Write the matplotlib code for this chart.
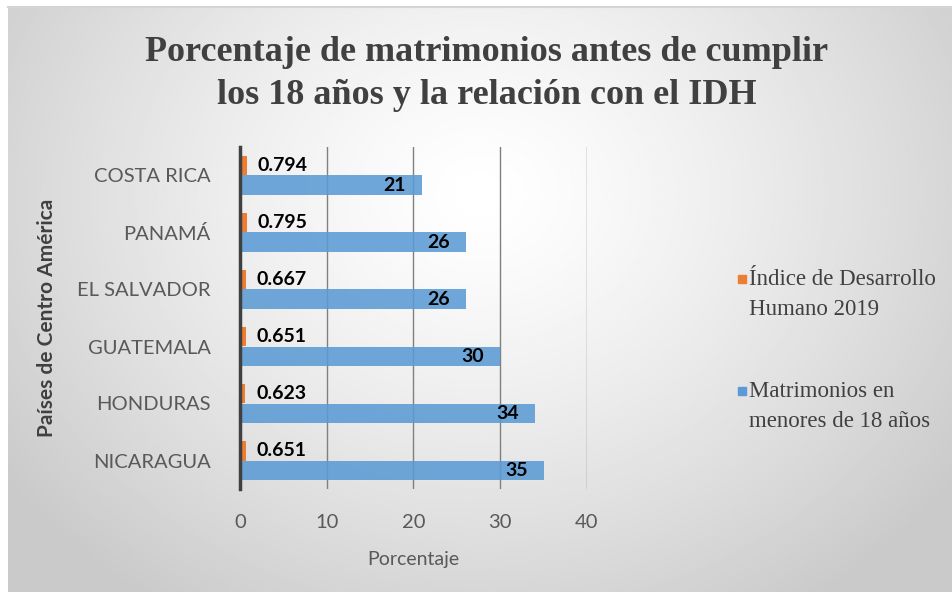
import numpy as np
import matplotlib
matplotlib.use("Agg")
import matplotlib.pyplot as plt
from matplotlib.patches import Rectangle

# data, top to bottom as shown
countries = ["COSTA RICA", "PANAMÁ", "EL SALVADOR", "GUATEMALA", "HONDURAS", "NICARAGUA"]
idh_2019 = [0.794, 0.795, 0.667, 0.651, 0.623, 0.651]
matrimonios = [21, 26, 26, 30, 34, 35]
xticks = [0, 10, 20, 30, 40]

title = "Porcentaje de matrimonios antes de cumplir\nlos 18 años y la relación con el IDH"
legend_labels = ["Índice de Desarrollo\nHumano 2019", "Matrimonios en\nmenores de 18 años"]

ORANGE = "#ed7d31"
BLUE = "#5b9bd5"
SANS = "Lato"
SERIF = "Liberation Serif"

W, H = 953, 592
fig = plt.figure(figsize=(W / 100, H / 100), dpi=100)

# radial grey background of the chart area
bx0, by1 = 8 / W, 1 - 7 / H
bg = fig.add_axes([bx0, 0, 1 - bx0, by1], zorder=0)
gx, gy = np.meshgrid(np.linspace(0, 1, 400), np.linspace(0, 1, 300))
r = np.sqrt(((gx - 0.5) / 0.62) ** 2 + ((gy - 0.32) / 0.85) ** 2)
shade = 1.0 - 0.21 * np.clip(r, 0, 1) ** 1.3
bg.imshow(shade, cmap="gray", vmin=0, vmax=1, aspect="auto", extent=(0, 1, 1, 0))
bg.set_xlim(0, 1)
bg.set_ylim(1, 0)
bg.axis("off")
fig.add_artist(plt.Line2D([bx0, 1], [by1, by1], transform=fig.transFigure, color="#d4d4d4", lw=1.5))

ax = fig.add_axes([240 / W, 1 - 489 / H, 347 / W, 342 / H], zorder=1)
ax.patch.set_alpha(0)

y = np.arange(len(countries))
h = 0.35
ax.barh(y - h / 2, idh_2019, height=h, color=ORANGE, zorder=3)
ax.barh(y + h / 2, matrimonios, height=h, color=BLUE, alpha=0.88, zorder=3)

for yi, v in zip(y, idh_2019):
    ax.annotate(f"{v:.3f}", (v, yi - h / 2), xytext=(11, 0), textcoords="offset pixels",
                ha="left", va="center", fontsize=14, fontweight="bold", family=SANS, color="black", zorder=5)
for yi, v in zip(y, matrimonios):
    ax.annotate(str(v), (v, yi + h / 2), xytext=(-16, 0), textcoords="offset pixels",
                ha="right", va="center", fontsize=14, fontweight="bold", family=SANS, color="black", zorder=5)

ax.set_xlim(0, 40)
ax.set_ylim(len(countries) - 0.5, -0.5)
ax.set_xticks(xticks)
ax.set_yticks(y)
ax.set_yticklabels(countries)
ax.tick_params(length=0, labelsize=14.5, labelcolor="#595959")
ax.tick_params(axis="x", pad=18)
ax.tick_params(axis="y", pad=21)
for t in ax.get_xticklabels() + ax.get_yticklabels():
    t.set_family(SANS)
ax.xaxis.grid(True, color="#808080", lw=1, zorder=4)
ax.set_axisbelow(False)
for s in ["top", "right", "bottom"]:
    ax.spines[s].set_visible(False)
ax.spines["left"].set_color("#404040")
ax.spines["left"].set_linewidth(2.5)
ax.spines["left"].set_zorder(6)

ax.set_xlabel("Porcentaje", fontsize=14, color="#595959", family=SANS)
ax.xaxis.set_label_coords(0.5, (489 - 551) / 342)
ax.set_ylabel("Países de Centro América", fontsize=15, fontweight="bold", color="#404040", family=SANS)
ax.yaxis.set_label_coords((57 - 240) / 347, 0.5)

fig.text(487 / W, 1 - 74 / H, title, ha="center", va="center", fontsize=26, fontweight="bold",
         family=SERIF, color="#404040", linespacing=1.4)

# legend: square marker aligned with the first line of each label
for (ytop, col, lab) in [(269, ORANGE, legend_labels[0]), (381, BLUE, legend_labels[1])]:
    fig.add_artist(Rectangle((738 / W, 1 - (ytop + 14) / H), 8 / W, 8 / H,
                             transform=fig.transFigure, color=col))
    fig.text(749 / W, 1 - ytop / H, lab, ha="left", va="top", fontsize=16.5,
             family=SERIF, color="#404040", linespacing=1.55)

fig.savefig("out.png", dpi=100)
